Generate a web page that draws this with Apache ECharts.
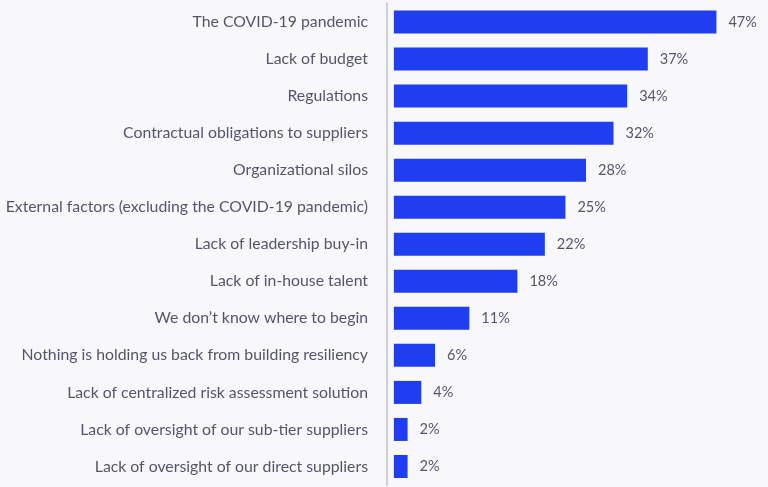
<!DOCTYPE html>
<html lang="en">
<head>
<meta charset="utf-8">
<title>What is holding you back from building resiliency</title>
<script src="https://cdn.jsdelivr.net/npm/echarts@6/dist/echarts.min.js"></script>
<style>
  html, body { margin: 0; padding: 0; background: #f7f7fc; }
  #chart { width: 768px; height: 487px; }
</style>
</head>
<body>
<div id="chart"></div>
<script>
// categories, top to bottom
var categories = [
    'The COVID-19 pandemic',
    'Lack of budget',
    'Regulations',
    'Contractual obligations to suppliers',
    'Organizational silos',
    'External factors (excluding the COVID-19 pandemic)',
    'Lack of leadership buy-in',
    'Lack of in-house talent',
    'We don\u2019t know where to begin',
    'Nothing is holding us back from building resiliency',
    'Lack of centralized risk assessment solution',
    'Lack of oversight of our sub-tier suppliers',
    'Lack of oversight of our direct suppliers'
];
// percent of respondents
var values = [47, 37, 34, 32, 28, 25, 22, 18, 11, 6, 4, 2, 2];

var myChart = echarts.init(document.getElementById('chart'));

var option = {
    backgroundColor: '#f7f7fc',
    animation: false,
    grid: {
        left: 387,
        width: 350,
        top: 3.5,
        bottom: 2
    },
    xAxis: {
        type: 'value',
        min: -1,
        max: 50,
        show: false
    },
    yAxis: {
        type: 'category',
        data: categories,
        inverse: true,
        axisTick: { show: false },
        axisLine: {
            onZero: false,
            lineStyle: { color: '#cfcfd8', width: 2 }
        },
        axisLabel: {
            margin: 19,
            color: '#55556a',
            fontFamily: 'Lato',
            fontSize: 15.8
        }
    },
    series: [{
        type: 'bar',
        data: values,
        barWidth: 23,
        itemStyle: { color: '#1f3ef0' },
        label: {
            show: true,
            position: 'right',
            distance: 12,
            color: '#55556a',
            fontFamily: 'Lato',
            fontSize: 14.5,
            formatter: '{c}%'
        }
    }]
};
myChart.setOption(option);
</script>
</body>
</html>
